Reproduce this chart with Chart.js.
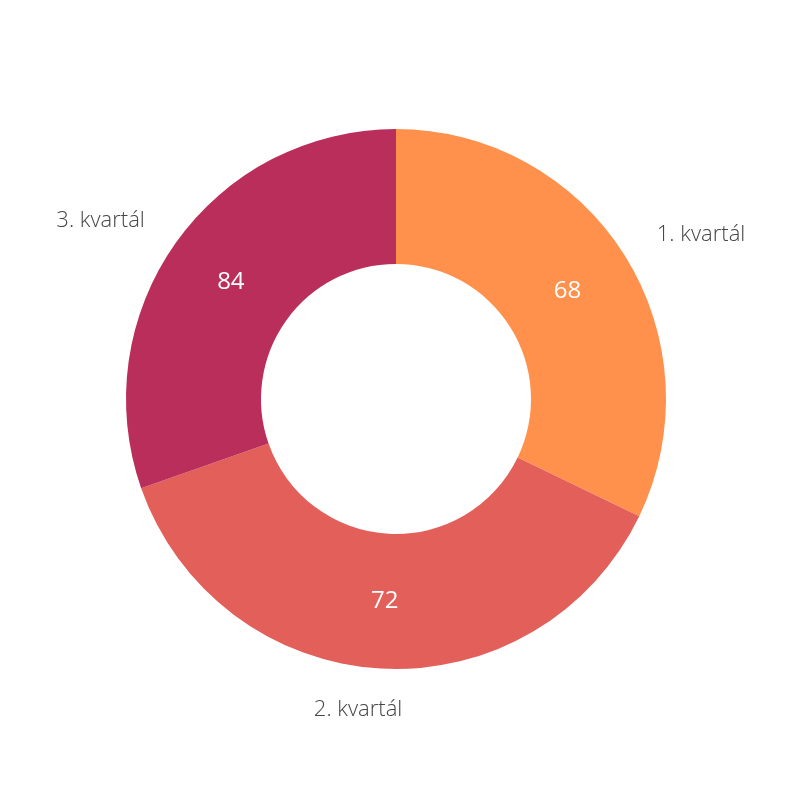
<!DOCTYPE html>
<html><head><meta charset="utf-8">
<script src="https://cdn.jsdelivr.net/npm/chart.js@4"></script>
<style>html,body{margin:0;padding:0;background:#fff}</style>
</head><body>
<canvas id="c" width="800" height="800"></canvas>
<script>
const categories = ['1. kvartál', '2. kvartál', '3. kvartál'];
const sliceValues = [72, 84, 68];
const valueLabels = ['68', '72', '84'];
const colors = ['#FF914D', '#E35F59', '#BA2E5B'];

const labelPlugin = {
  id: 'sliceLabels',
  afterDatasetsDraw(chart) {
    const ctx = chart.ctx;
    const meta = chart.getDatasetMeta(0);
    meta.data.forEach((arc, i) => {
      const p = arc.getProps(['x', 'y', 'startAngle', 'endAngle', 'innerRadius', 'outerRadius'], true);
      const mid = (p.startAngle + p.endAngle) / 2;
      const hx = Math.cos(mid), vy = Math.sin(mid);
      // inside value label
      const rIn = (p.innerRadius + p.outerRadius) / 2;
      ctx.save();
      ctx.font = '400 24px "Open Sans"';
      ctx.fillStyle = '#ffffff';
      ctx.textAlign = 'center';
      ctx.textBaseline = 'middle';
      ctx.fillText(valueLabels[i], p.x + hx * rIn, p.y + vy * rIn);
      // outside category label
      const rOut = p.outerRadius + 38;
      ctx.font = '300 22px "Open Sans"';
      ctx.fillStyle = '#444444';
      const text = chart.data.labels[i];
      const w = ctx.measureText(text).width;
      const ax = p.x + hx * rOut, ay = p.y + vy * rOut;
      const k = Math.max(-1, Math.min(1, hx / 0.12));
      const cx = ax + (w / 2) * k;
      ctx.textAlign = 'center';
      if (Math.abs(vy) > 0.9) {
        ctx.textBaseline = vy > 0 ? 'top' : 'bottom';
      } else {
        ctx.textBaseline = 'middle';
      }
      ctx.fillText(text, cx, Math.abs(vy) > 0.9 ? p.y + vy * (p.outerRadius + 30) : ay);
      ctx.restore();
    });
  }
};

new Chart(document.getElementById('c'), {
  type: 'doughnut',
  data: {
    labels: categories,
    datasets: [{
      data: sliceValues,
      backgroundColor: colors,
      borderWidth: 0
    }]
  },
  options: {
    responsive: false,
    devicePixelRatio: 1,
    animation: false,
    cutout: '50%',
    layout: { padding: { left: 126, right: 134, top: 129, bottom: 131 } },
    plugins: { legend: { display: false }, tooltip: { enabled: false } }
  },
  plugins: [labelPlugin]
});
</script>
</body></html>
